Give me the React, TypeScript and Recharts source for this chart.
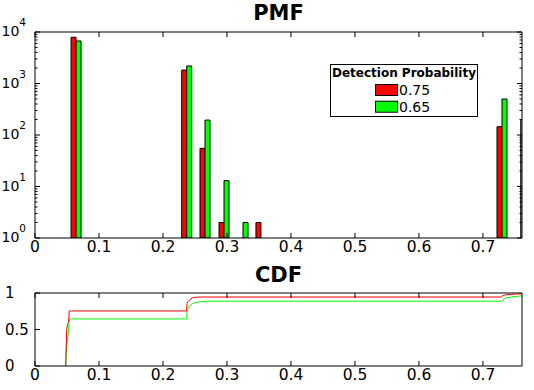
import { ComposedChart, LineChart, Bar, Line, XAxis, YAxis, Legend } from 'recharts';

const FONT = '"DejaVu Sans", sans-serif';
const AXIS = '#000';

// PMF: histogram bin centres and counts for each detection probability
const pmfBins = [0.0641, 0.237, 0.2656, 0.2953, 0.325, 0.353, 0.7297, 0.759];
const pmfRed = [7900, 1820, 55, 2, null, 2, 145, null];
const pmfGreen = [6700, 2190, 195, 13, 2, null, 500, 195];

// CDF curves
const cdfX = [0.048, 0.0495, 0.051, 0.0525, 0.0535, 0.237, 0.2375, 0.239, 0.242, 0.246, 0.252, 0.26, 0.27, 0.729, 0.731, 0.735, 0.745, 0.761];
const cdfRed = [0, 0.5, 0.58, 0.6, 0.754, 0.754, 0.86, 0.88, 0.91, 0.935, 0.943, 0.945, 0.945, 0.945, 0.962, 0.975, 0.982, 0.99];
const cdfGreen = [0, 0.3, 0.38, 0.5, 0.645, 0.645, 0.75, 0.79, 0.83, 0.855, 0.872, 0.882, 0.887, 0.887, 0.905, 0.93, 0.945, 0.962];

const seriesNames = ['0.75', '0.65'];
const xTicks = [0, 0.1, 0.2, 0.3, 0.4, 0.5, 0.6, 0.7];
const logMajors = [1, 10, 100, 1000, 10000];
const cdfTicks = [0, 0.5, 1];

const X_MAX = 0.761;

const logTicks: number[] = [];
logMajors.forEach((m, i) => {
  logTicks.push(m);
  if (i < logMajors.length - 1) for (let k = 2; k <= 9; k++) logTicks.push(m * k);
});

const pmfData = pmfBins.map((x, i) => ({ x, red: pmfRed[i], green: pmfGreen[i] }));
const cdfData = cdfX.map((x, i) => ({ x, red: cdfRed[i], green: cdfGreen[i] }));

const isMajor = (v: number) => Math.abs(Math.log10(v) - Math.round(Math.log10(v))) < 1e-9;

function LogTickLeft({ x, y, payload }: any) {
  const v = payload.value;
  const major = isMajor(v);
  return (
    <g>
      <line x1={x} y1={y} x2={x + (major ? 5 : 2.5)} y2={y} stroke={AXIS} />
      {major && (
        <text x={x - 9} y={y + 4} textAnchor="end" fontSize={14} fontFamily={FONT} fill="#000">
          10<tspan dy={-10} fontSize={10.5}>{Math.round(Math.log10(v))}</tspan>
        </text>
      )}
    </g>
  );
}

function LogTickRight({ x, y, payload }: any) {
  const major = isMajor(payload.value);
  return <line x1={x} y1={y} x2={x - (major ? 5 : 2.5)} y2={y} stroke={AXIS} />;
}

function BottomTick({ x, y, payload }: any) {
  return (
    <g>
      <line x1={x} y1={y} x2={x} y2={y - 5} stroke={AXIS} />
      <text x={x} y={y + 14} textAnchor="middle" fontSize={15.5} fontFamily={FONT} fill="#000">
        {String(payload.value)}
      </text>
    </g>
  );
}

function TopTick({ x, y }: any) {
  return <line x1={x} y1={y} x2={x} y2={y + 5} stroke={AXIS} />;
}

function CdfTickLeft({ x, y, payload }: any) {
  return (
    <g>
      <line x1={x} y1={y} x2={x + 5} y2={y} stroke={AXIS} />
      <text x={x - 30} y={y + 5} textAnchor="start" fontSize={15} fontFamily={FONT} fill="#000">
        {String(payload.value)}
      </text>
    </g>
  );
}

function CdfTickRight({ x, y }: any) {
  return <line x1={x} y1={y} x2={x - 5} y2={y} stroke={AXIS} />;
}

function PmfLegend({ payload }: any) {
  const items = seriesNames
    .map((n) => (payload || []).find((p: any) => p.value === n))
    .filter(Boolean);
  return (
    <svg width={148} height={53} style={{ display: 'block' }}>
      <rect x={0.5} y={0.5} width={147} height={52} fill="#fff" stroke="#000" />
      <text x={74} y={13} textAnchor="middle" fontWeight="bold" fontSize={12} fontFamily={FONT} fill="#000">
        Detection Probability
      </text>
      {items.map((p: any, i: number) => (
        <g key={p.value}>
          <rect x={45.5} y={20.5 + i * 16.7} width={22} height={11} fill={p.color} stroke="#000" />
          <text x={69} y={31 + i * 16.7} fontSize={14} fontFamily={FONT} fill="#000">
            {p.value}
          </text>
        </g>
      ))}
    </svg>
  );
}

export default function App() {
  return (
    <div style={{ position: 'absolute', left: 0, top: 0, width: 534, height: 390, background: '#fff' }}>
      <div style={{ position: 'absolute', left: 0, top: 0 }}>
        <ComposedChart width={534} height={262} data={pmfData} margin={{ top: 0, right: 0, bottom: 0, left: 0 }} barGap={0}>
          <XAxis dataKey="x" type="number" domain={[0, X_MAX]} allowDataOverflow ticks={xTicks} interval={0}
            height={24} stroke={AXIS} tickSize={0} tickMargin={0} tickLine={false} tick={<BottomTick />} />
          <XAxis xAxisId="top" dataKey="x" orientation="top" type="number" domain={[0, X_MAX]} allowDataOverflow ticks={xTicks} interval={0}
            height={32} stroke={AXIS} tickSize={0} tickMargin={0} tickLine={false} tick={<TopTick />} />
          <YAxis scale="log" type="number" domain={[1, 10000]} allowDataOverflow ticks={logTicks} interval={0}
            width={35} stroke={AXIS} tickSize={0} tickMargin={0} tickLine={false} tick={<LogTickLeft />} />
          <YAxis yAxisId="right" orientation="right" scale="log" type="number" domain={[1, 10000]} allowDataOverflow ticks={logTicks} interval={0}
            width={12} stroke={AXIS} tickSize={0} tickMargin={0} tickLine={false} tick={<LogTickRight />} />
          <Legend layout="vertical" align="center" verticalAlign="middle" content={<PmfLegend />}
            wrapperStyle={{ left: 330, top: 64, width: 148, height: 53 }} />
          <Bar dataKey="red" name={seriesNames[0]} fill="#ff0000" stroke="#000" strokeWidth={1} barSize={5} isAnimationActive={false} />
          <Bar dataKey="green" name={seriesNames[1]} fill="#00ff00" stroke="#000" strokeWidth={1} barSize={5} isAnimationActive={false} />
        </ComposedChart>
      </div>
      <div style={{ position: 'absolute', left: 0, top: 262 }}>
        <LineChart width={534} height={128} data={cdfData} margin={{ top: 0, right: 0, bottom: 0, left: 0 }}>
          <XAxis dataKey="x" type="number" domain={[0, X_MAX]} allowDataOverflow ticks={xTicks} interval={0}
            height={24} stroke={AXIS} tickSize={0} tickMargin={0} tickLine={false} tick={<BottomTick />} />
          <XAxis xAxisId="top" dataKey="x" orientation="top" type="number" domain={[0, X_MAX]} allowDataOverflow ticks={xTicks} interval={0}
            height={31} stroke={AXIS} tickSize={0} tickMargin={0} tickLine={false} tick={<TopTick />} />
          <YAxis type="number" domain={[0, 1]} ticks={cdfTicks} interval={0}
            width={35} stroke={AXIS} tickSize={0} tickMargin={0} tickLine={false} tick={<CdfTickLeft />} />
          <YAxis yAxisId="right" orientation="right" type="number" domain={[0, 1]} ticks={cdfTicks} interval={0}
            width={12} stroke={AXIS} tickSize={0} tickMargin={0} tickLine={false} tick={<CdfTickRight />} />
          <Line dataKey="green" name={seriesNames[1]} type="linear" stroke="#00ff00" strokeWidth={1} dot={false} isAnimationActive={false} />
          <Line dataKey="red" name={seriesNames[0]} type="linear" stroke="#ff0000" strokeWidth={1} dot={false} isAnimationActive={false} />
        </LineChart>
      </div>
      <svg width={534} height={390} style={{ position: 'absolute', left: 0, top: 0, pointerEvents: 'none' }}>
        <text x={278.5} y={20} textAnchor="middle" fontWeight="bold" fontSize={21} fontFamily={FONT} fill="#000">PMF</text>
        <text x={278.5} y={282} textAnchor="middle" fontWeight="bold" fontSize={21} fontFamily={FONT} fill="#000">CDF</text>
      </svg>
    </div>
  );
}
